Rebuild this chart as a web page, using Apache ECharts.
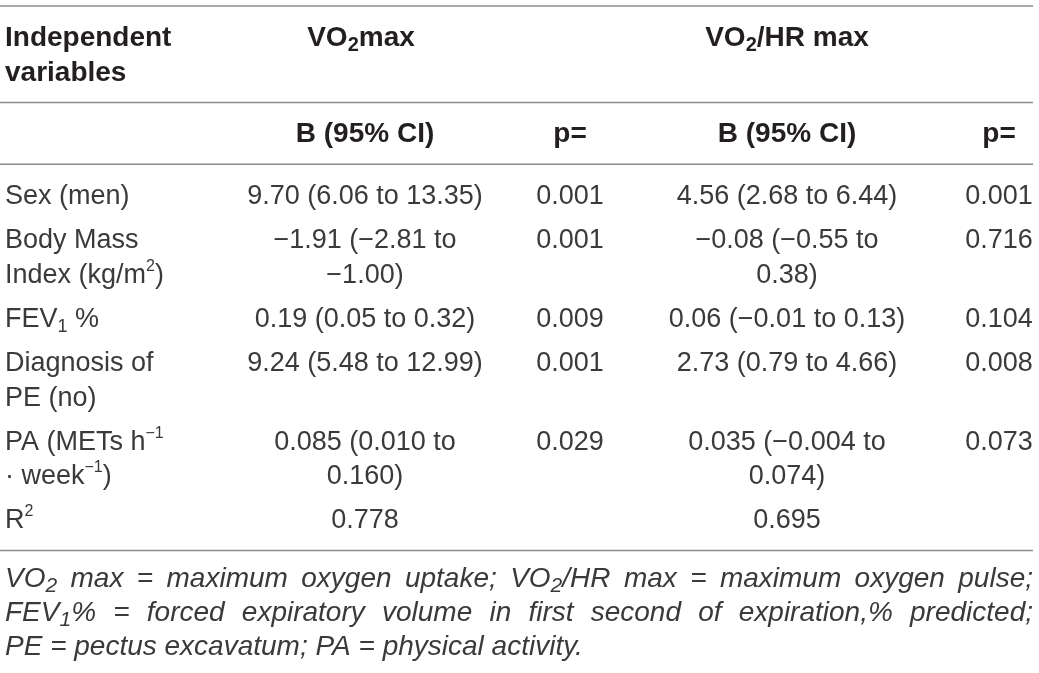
<!DOCTYPE html>
<html>
<head>
<meta charset="utf-8">
<script src="https://cdn.jsdelivr.net/npm/echarts/dist/echarts.min.js"></script>
<style>
  html, body { margin: 0; padding: 0; background: #fff; }
  #table { width: 1039px; height: 673px; }
</style>
</head>
<body>
<div id="table"></div>
<script>
// ---- table content ----
var stubHead = ['Independent', 'variables'];
var groupHeads = ['VO{sub|2}max', 'VO{sub|2}/HR max'];
var subHeads = ['B (95% CI)', 'p=', 'B (95% CI)', 'p='];

var rowLabels = [
  ['Sex (men)'],
  ['Body Mass', 'Index (kg/m{sup|2})'],
  ['FEV{sub|1} %'],
  ['Diagnosis of', 'PE (no)'],
  ['PA (METs h{sup|\u22121}', '\u00b7 week{sup|\u22121})'],
  ['R{sup|2}']
];
var vo2maxB = [
  ['9.70 (6.06 to 13.35)'],
  ['\u22121.91 (\u22122.81 to', '\u22121.00)'],
  ['0.19 (0.05 to 0.32)'],
  ['9.24 (5.48 to 12.99)'],
  ['0.085 (0.010 to', '0.160)'],
  ['0.778']
];
var vo2maxP = ['0.001', '0.001', '0.009', '0.001', '0.029', ''];
var pulseB = [
  ['4.56 (2.68 to 6.44)'],
  ['\u22120.08 (\u22120.55 to', '0.38)'],
  ['0.06 (\u22120.01 to 0.13)'],
  ['2.73 (0.79 to 4.66)'],
  ['0.035 (\u22120.004 to', '0.074)'],
  ['0.695']
];
var pulseP = ['0.001', '0.716', '0.104', '0.008', '0.073', ''];

var footLines = [
  'VO{sub|2} max = maximum oxygen uptake; VO{sub|2}/HR max = maximum oxygen pulse;',
  'FEV{sub|1}% = forced expiratory volume in first second of expiration,% predicted;',
  'PE = pectus excavatum; PA = physical activity.'
];

// ---- layout ----
var W = 1039, H = 673;
var LINE_PX = 34.7;          // one text line
var TOP_PX = 6;              // top rule
var PAD_TOP = 0.93, PAD_BOT = 0.85, ROW_GAP = 0.27;
var FOOT_PAD = 0.84, FOOT_LINE = 0.98;
var colX = [5, 365, 570, 787, 999];
var colAlign = ['left', 'center', 'center', 'center', 'center'];
var ruleX = [0, 1033];
var FONT = '"Liberation Sans", Arial, Helvetica, sans-serif';

function mk(size, weight, style, fill) {
  return { fontSize: size, fontWeight: weight, fontStyle: style, fontFamily: FONT, fill: fill };
}
var kinds = {
  body: { base: mk(27, 'normal', 'normal', '#3a3a3a'),
          sub: mk(18, 'normal', 'normal', '#3a3a3a'), sup: mk(16, 'normal', 'normal', '#3a3a3a') },
  head: { base: mk(28, 'bold', 'normal', '#231f20'),
          sub: mk(20, 'bold', 'normal', '#231f20'), sup: mk(16, 'bold', 'normal', '#231f20') },
  foot: { base: mk(28, 'normal', 'italic', '#3a3a3a'),
          sub: mk(21, 'normal', 'italic', '#3a3a3a'), sup: mk(16, 'normal', 'italic', '#3a3a3a') }
};
function richFor(k) {
  var s = kinds[k];
  return {
    sub: Object.assign({}, s.sub, { lineHeight: 19, verticalAlign: 'bottom' }),
    sup: Object.assign({}, s.sup, { lineHeight: 20, verticalAlign: 'top' })
  };
}

var ctx = document.createElement('canvas').getContext('2d');
function fontOf(st) {
  return st.fontStyle + ' ' + st.fontWeight + ' ' + st.fontSize + 'px ' + st.fontFamily;
}
function measure(str, k) {
  var w = 0;
  str.replace(/\{(\w+)\|([^}]*)\}|([^{]+)/g, function (m, name, inner, plain) {
    var isPlain = plain !== undefined;
    ctx.font = fontOf(isPlain ? kinds[k].base : kinds[k][name]);
    w += ctx.measureText(isPlain ? plain : inner).width;
    return m;
  });
  return w;
}

var texts = [];   // {x, y, text, kind, align}
var rules = [];   // [x0, x1, y]
function put(x, y, text, kind, align) {
  if (text) texts.push({ x: x, y: y, text: text, kind: kind, align: align });
}

var u = 0;
rules.push([ruleX[0], ruleX[1], u]);
// header
var hy = u + PAD_TOP;
stubHead.forEach(function (t, k) { put(colX[0], hy + k, t, 'head', 'left'); });
put(colX[1] - 4, hy, groupHeads[0], 'head', 'center');
put(colX[3], hy, groupHeads[1], 'head', 'center');
u = hy + stubHead.length - 1 + PAD_BOT;
rules.push([ruleX[0], ruleX[1], u]);
// sub header
var sy = u + PAD_TOP;
subHeads.forEach(function (t, c) { put(colX[c + 1], sy, t, 'head', 'center'); });
u = sy + PAD_BOT;
rules.push([ruleX[0], ruleX[1], u]);
// body
var by = u + PAD_TOP, last = by;
rowLabels.forEach(function (lab, r) {
  var cells = [lab, vo2maxB[r], [vo2maxP[r]], pulseB[r], [pulseP[r]]];
  var n = 1;
  cells.forEach(function (lines, c) {
    n = Math.max(n, lines.length);
    lines.forEach(function (t, k) { put(colX[c], by + k, t, 'body', colAlign[c]); });
  });
  last = by + n - 1;
  by = last + 1 + ROW_GAP;
});
u = last + PAD_BOT;
rules.push([ruleX[0], ruleX[1], u]);
// footnote, justified except the last line
var fy = u + FOOT_PAD;
footLines.forEach(function (line, k) {
  var y = fy + k * FOOT_LINE;
  if (k === footLines.length - 1) { put(colX[0], y, line, 'foot', 'left'); return; }
  var words = line.split(' ');
  var widths = words.map(function (wd) { return measure(wd, 'foot'); });
  var total = widths.reduce(function (a, b) { return a + b; }, 0);
  var gap = (ruleX[1] - colX[0] - total) / (words.length - 1);
  var x = colX[0];
  words.forEach(function (wd, i) { put(x, y, wd, 'foot', 'left'); x += widths[i] + gap; });
});

var chart = echarts.init(document.getElementById('table'));
chart.setOption({
  animation: false,
  grid: { left: 0, right: 0, top: 0, bottom: 0 },
  xAxis: { type: 'value', min: 0, max: W, show: false },
  yAxis: { type: 'value', inverse: true, show: false,
           min: -TOP_PX / LINE_PX, max: (H - TOP_PX) / LINE_PX },
  series: [
    {
      type: 'custom',
      silent: true,
      clip: false,
      data: rules,
      renderItem: function (params, api) {
        var a = api.coord([api.value(0), api.value(2)]);
        var b = api.coord([api.value(1), api.value(2)]);
        return { type: 'line', shape: { x1: a[0], y1: a[1], x2: b[0], y2: b[1] },
                 style: { stroke: '#8c8c8c', lineWidth: 1.6 } };
      }
    },
    {
      type: 'custom',
      silent: true,
      clip: false,
      data: texts.map(function (t, i) { return [t.x, t.y, i]; }),
      renderItem: function (params, api) {
        var t = texts[api.value(2)];
        var p = api.coord([api.value(0), api.value(1)]);
        var st = kinds[t.kind].base;
        return {
          type: 'text', x: p[0], y: p[1],
          style: Object.assign({}, st, {
            text: t.text, align: t.align, verticalAlign: 'middle',
            lineHeight: 34, rich: richFor(t.kind)
          })
        };
      }
    }
  ]
});
</script>
</body>
</html>
